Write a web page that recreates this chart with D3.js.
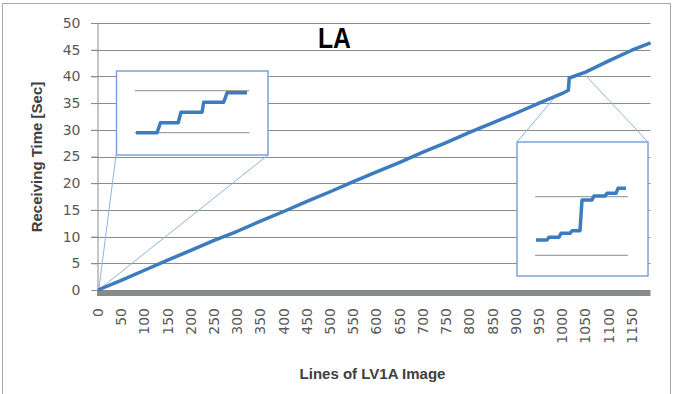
<!DOCTYPE html>
<html>
<head>
<meta charset="utf-8">
<script src="https://cdn.jsdelivr.net/npm/d3@7"></script>
<style>
  body { margin: 0; background: #fff; }
  svg { display: block; }
</style>
</head>
<body>
<div id="chart"></div>
<script>
// Main series: line number vs receiving time
const lineNumbers = [0, 50, 100, 150, 200, 250, 300, 350, 400, 450, 500, 550, 600, 650, 700,
  750, 800, 850, 900, 950, 1000, 1013, 1015, 1050, 1100, 1150, 1190];
const receivingTimes = [0, 1.8, 3.7, 5.6, 7.4, 9.3, 11.0, 12.9, 14.7, 16.6, 18.4, 20.3, 22.1,
  23.9, 25.8, 27.6, 29.5, 31.3, 33.1, 35.0, 36.8, 37.4, 39.7, 40.8, 42.9, 44.9, 46.3];

const xTickLabels = d3.range(0, 1151, 50);
const yTickLabels = [0, 5, 10, 15, 20, 25, 30, 35, 40, 45, 50];

// zoomed insets (arbitrary local units, 0..10 across, 0..4 between the two guide lines)
const insetLeftX = [0, 1.9, 2.2, 3.8, 4.05, 5.95, 6.1, 7.9, 8.2, 10];
const insetLeftY = [0, 0, 0.95, 0.95, 1.95, 1.95, 2.9, 2.9, 3.8, 3.8];
const insetRightX = [0, 1.22, 1.44, 2.56, 2.78, 3.78, 4.0, 4.89, 5.11, 6.22, 6.44, 7.67, 7.89, 8.89, 9.11, 10];
const insetRightY = [1.04, 1.04, 1.23, 1.23, 1.5, 1.5, 1.68, 1.68, 3.77, 3.77, 4.05, 4.05, 4.23, 4.23, 4.57, 4.57];

const width = 675, height = 394;
const svg = d3.select('#chart').append('svg')
  .attr('width', width)
  .attr('height', height);

svg.append('rect')
  .attr('x', 2.5).attr('y', 3.5)
  .attr('width', 668).attr('height', 400)
  .attr('fill', '#fff')
  .attr('stroke', '#a9a9a9');

const x = d3.scaleLinear().domain([0, 1190]).range([98, 650.5]);
const y = d3.scaleLinear().domain([0, 50]).range([290, 23]);

// gridlines
svg.append('g')
  .selectAll('line')
  .data(yTickLabels.filter(d => d > 0))
  .join('line')
  .attr('x1', 91).attr('x2', 650.5)
  .attr('y1', d => Math.round(y(d)) + 0.5)
  .attr('y2', d => Math.round(y(d)) + 0.5)
  .attr('stroke', '#8c8c8c');

// y axis
const yAxis = d3.axisLeft(y).tickValues(yTickLabels).tickSize(6).tickPadding(11);
const gy = svg.append('g')
  .attr('transform', 'translate(97.5,0)')
  .call(yAxis);
gy.select('.domain').attr('stroke', '#8c8c8c');
gy.selectAll('.tick line').attr('stroke', '#8c8c8c');
gy.selectAll('text')
  .style('font-family', 'DejaVu Sans')
  .style('font-size', '14px')
  .attr('fill', '#595959');

// thick x axis bar
svg.append('rect')
  .attr('x', 97).attr('y', y(0))
  .attr('width', x(1190) - 97).attr('height', 6)
  .attr('fill', '#868a88');

// x tick labels (rotated)
svg.append('g')
  .selectAll('text')
  .data(xTickLabels)
  .join('text')
  .attr('transform', d => `translate(${x(d)},308) rotate(-90)`)
  .attr('dy', '0.35em')
  .style('text-anchor', 'end')
  .style('font-family', 'DejaVu Sans')
  .style('font-size', '14px')
  .attr('fill', '#595959')
  .text(d => d);

// axis titles
svg.append('text')
  .attr('x', 372.5).attr('y', 379)
  .style('text-anchor', 'middle')
  .style('font-family', 'Liberation Sans, Arial, sans-serif')
  .style('font-weight', 'bold')
  .style('font-size', '15px')
  .attr('fill', '#404040')
  .text('Lines of LV1A Image');

svg.append('text')
  .attr('transform', 'translate(42,157) rotate(-90)')
  .style('text-anchor', 'middle')
  .style('font-family', 'Liberation Sans, Arial, sans-serif')
  .style('font-weight', 'bold')
  .style('font-size', '15px')
  .attr('fill', '#404040')
  .text('Receiving Time [Sec]');

// chart title
svg.append('text')
  .attr('x', 318).attr('y', 48)
  .attr('textLength', 33)
  .attr('lengthAdjust', 'spacingAndGlyphs')
  .style('font-family', 'Liberation Sans, Arial, sans-serif')
  .style('font-weight', 'bold')
  .style('font-size', '29px')
  .attr('fill', '#000')
  .text('LA');

// connectors from insets to the part of the line they magnify
const connectors = [
  [[116, 155], [x(2), y(0.2)]],
  [[268, 155], [x(4), y(0.2)]],
  [[517, 142], [x(984), y(36.1)]],
  [[648, 142], [x(1049), y(40.3)]]
];
svg.append('g')
  .selectAll('line')
  .data(connectors)
  .join('line')
  .attr('x1', d => d[0][0]).attr('y1', d => d[0][1])
  .attr('x2', d => d[1][0]).attr('y2', d => d[1][1])
  .attr('stroke', '#8fb3dc')
  .attr('stroke-width', 1);

// main line
const series = lineNumbers.map((n, i) => ({ n: n, t: receivingTimes[i] }));
svg.append('path')
  .datum(series)
  .attr('d', d3.line().x(d => x(d.n)).y(d => y(d.t)))
  .attr('fill', 'none')
  .attr('stroke', '#3d7bbf')
  .attr('stroke-width', 3.5)
  .attr('stroke-linejoin', 'round');

// inset drawing helper
function drawInset(box, guideX, guideY, xs, ys) {
  const g = svg.append('g');
  g.append('rect')
    .attr('x', box.x).attr('y', box.y)
    .attr('width', box.w).attr('height', box.h)
    .attr('fill', '#fff')
    .attr('stroke', '#7aa4d6')
    .attr('stroke-width', 1.5);
  const sx = d3.scaleLinear().domain([0, 10]).range(guideX);
  const sy = d3.scaleLinear().domain([0, 4]).range(guideY);
  g.selectAll('line')
    .data([0, 4])
    .join('line')
    .attr('x1', sx(-0.1)).attr('x2', sx(10.2))
    .attr('y1', d => sy(d)).attr('y2', d => sy(d))
    .attr('stroke', '#8c8c8c');
  g.append('path')
    .datum(xs.map((v, i) => [v, ys[i]]))
    .attr('d', d3.line().x(d => sx(d[0])).y(d => sy(d[1])))
    .attr('fill', 'none')
    .attr('stroke', '#3d7bbf')
    .attr('stroke-width', 3.5)
    .attr('stroke-linejoin', 'round');
}

drawInset({ x: 116.5, y: 71, w: 151.5, h: 84 }, [136, 247], [132.7, 90.7], insetLeftX, insetLeftY);
drawInset({ x: 517, y: 142, w: 131, h: 134 }, [536, 626], [255.3, 196.7], insetRightX, insetRightY);
</script>
</body>
</html>
